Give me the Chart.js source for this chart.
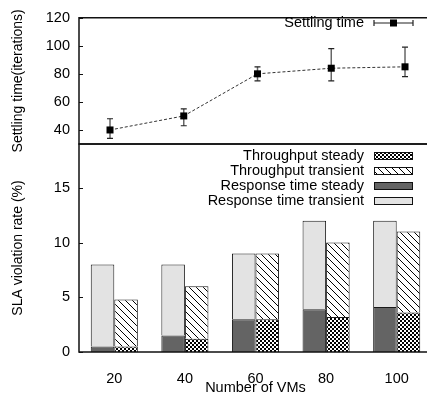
<!DOCTYPE html>
<html>
<head>
<meta charset="utf-8">
<script src="https://cdn.jsdelivr.net/npm/chart.js@4"></script>
<style>
  html, body { margin: 0; padding: 0; background: #fff; overflow: hidden; }
  #wrap { position: relative; width: 432px; height: 394px; }
  #wrap canvas { position: absolute; left: 0; top: 0; }
</style>
</head>
<body>
<div id="wrap">
  <canvas id="barChart" width="432" height="394"></canvas>
  <canvas id="lineChart" width="432" height="165"></canvas>
</div>
<script>
// values
const vmLabels = ["20", "40", "60", "80", "100"];
const vmCounts = [20, 40, 60, 80, 100];

const settlingTime = [40, 50, 80, 84, 85];
const settlingLow = [34, 43, 75, 75, 78];
const settlingHigh = [48, 55, 85, 98, 99];

const respSteady = [0.5, 1.5, 3, 3.9, 4.1];
const respTransient = [7.5, 6.5, 6, 8.1, 7.9];
const tputSteady = [0.5, 1.2, 3, 3.2, 3.6];
const tputTransient = [4.3, 4.8, 6, 6.8, 7.4];

const topTicks = [40, 60, 80, 100, 120];
const bottomTicks = [0, 5, 10, 15];

const FONT = "'Liberation Sans', Arial, sans-serif";
const FS = 14.5;
Chart.defaults.font.family = FONT;
Chart.defaults.font.size = FS;
Chart.defaults.color = "#000";

// fill patterns
function hatchPattern() {
  const c = document.createElement("canvas");
  c.width = 7; c.height = 7;
  const g = c.getContext("2d");
  g.fillStyle = "#fff";
  g.fillRect(0, 0, 7, 7);
  g.strokeStyle = "#000";
  g.lineWidth = 1;
  g.beginPath();
  g.moveTo(-1, -1); g.lineTo(8, 8);
  g.moveTo(-8, -1); g.lineTo(1, 8);
  g.moveTo(6, -1); g.lineTo(15, 8);
  g.stroke();
  return g.createPattern(c, "repeat");
}
function checkerPattern() {
  const c = document.createElement("canvas");
  c.width = 4; c.height = 4;
  const g = c.getContext("2d");
  g.fillStyle = "#fff";
  g.fillRect(0, 0, 4, 4);
  g.fillStyle = "#000";
  g.fillRect(0, 0, 2, 2);
  g.fillRect(2, 2, 2, 2);
  return g.createPattern(c, "repeat");
}
const hatch = hatchPattern();
const checker = checkerPattern();
const DARK = "#646464";
const LIGHT = "#e3e3e3";

// box lines + inward ticks
const framePlugin = {
  id: "frame",
  afterDraw(chart) {
    const { ctx, chartArea: a } = chart;
    const ys = chart.scales.y;
    ctx.save();
    ctx.strokeStyle = "#111";
    ctx.lineWidth = 1.5;
    ctx.beginPath();
    ctx.moveTo(a.right, a.top); ctx.lineTo(a.left, a.top);
    ctx.lineTo(a.left, a.bottom); ctx.lineTo(a.right, a.bottom);
    ctx.stroke();
    ctx.lineWidth = 1;
    ctx.beginPath();
    ys.ticks.forEach(t => {
      const y = Math.round(ys.getPixelForValue(t.value)) + 0.5;
      ctx.moveTo(a.left, y); ctx.lineTo(a.left + 4, y);
    });
    ctx.stroke();
    ctx.restore();
  }
};

const errorBarPlugin = {
  id: "errorBars",
  afterDatasetsDraw(chart) {
    const { ctx } = chart;
    const xs = chart.scales.x, ys = chart.scales.y;
    ctx.save();
    vmCounts.forEach((v, i) => {
      const x = xs.getPixelForValue(v);
      const yl = ys.getPixelForValue(settlingLow[i]);
      const yh = ys.getPixelForValue(settlingHigh[i]);
      ctx.strokeStyle = "#666";
      ctx.lineWidth = 1.5;
      ctx.beginPath(); ctx.moveTo(x, yl); ctx.lineTo(x, yh); ctx.stroke();
      ctx.strokeStyle = "#222";
      ctx.lineWidth = 1.2;
      ctx.beginPath();
      ctx.moveTo(x - 3, yl); ctx.lineTo(x + 3, yl);
      ctx.moveTo(x - 3, yh); ctx.lineTo(x + 3, yh);
      ctx.stroke();
      // marker on top of the bar
      ctx.fillStyle = "#000";
      const y = ys.getPixelForValue(settlingTime[i]);
      ctx.fillRect(x - 3.5, y - 3.5, 7, 7);
    });
    ctx.restore();
  }
};

const lineLegend = {
  id: "lineLegend",
  afterDraw(chart) {
    const { ctx } = chart;
    ctx.save();
    ctx.font = FS + "px " + FONT;
    ctx.fillStyle = "#000";
    ctx.textAlign = "right";
    ctx.textBaseline = "middle";
    ctx.fillText("Settling time", 364, 23);
    ctx.strokeStyle = "#222";
    ctx.lineWidth = 1.2;
    ctx.beginPath();
    ctx.moveTo(374, 23); ctx.lineTo(413, 23);
    ctx.moveTo(374, 20); ctx.lineTo(374, 26);
    ctx.moveTo(413, 20); ctx.lineTo(413, 26);
    ctx.stroke();
    ctx.fillStyle = "#000";
    ctx.fillRect(390, 19.5, 7, 7);
    ctx.restore();
  }
};

const barLegend = {
  id: "barLegend",
  afterDraw(chart) {
    const { ctx } = chart;
    const items = [
      ["Throughput steady", checker],
      ["Throughput transient", hatch],
      ["Response time steady", DARK],
      ["Response time transient", LIGHT]
    ];
    ctx.save();
    ctx.font = FS + "px " + FONT;
    ctx.textAlign = "right";
    ctx.textBaseline = "middle";
    items.forEach((it, i) => {
      const y = 156 + i * 15;
      ctx.fillStyle = "#000";
      ctx.fillText(it[0], 364, y);
      ctx.fillStyle = it[1];
      ctx.fillRect(374, y - 3.5, 39, 7);
      ctx.strokeStyle = "#111";
      ctx.lineWidth = 1;
      ctx.strokeRect(374.5, y - 3.5, 38, 7);
    });
    ctx.restore();
  }
};

new Chart(document.getElementById("lineChart"), {
  type: "line",
  data: {
    datasets: [{
      label: "Settling time",
      data: vmCounts.map((v, i) => ({ x: v, y: settlingTime[i] })),
      borderColor: "#333",
      borderWidth: 1,
      borderDash: [3, 2],
      pointStyle: "rect",
      pointRadius: 0,
      fill: false
    }]
  },
  options: {
    responsive: false,
    animation: false,
    layout: { padding: { top: 11, bottom: 21, left: 0, right: 0 } },
    plugins: { legend: { display: false }, tooltip: { enabled: false } },
    scales: {
      x: { type: "linear", display: false, min: 11.59, max: 107.32 },
      y: {
        min: 30, max: 120,
        afterFit(s) { s.width = 79; },
        afterBuildTicks(s) { s.ticks = topTicks.map(v => ({ value: v })); },
        grid: { display: false, drawTicks: false },
        border: { display: false },
        ticks: { padding: 9 },
        title: {
          display: true,
          text: "Settling time(iterations)",
          font: { size: 14 },
          padding: { top: 10, bottom: 0 }
        }
      }
    }
  },
  plugins: [errorBarPlugin, framePlugin, lineLegend]
});

new Chart(document.getElementById("barChart"), {
  type: "bar",
  data: {
    labels: vmLabels,
    datasets: [
      { label: "Response time steady", data: respSteady, stack: "resp", backgroundColor: DARK },
      { label: "Response time transient", data: respTransient, stack: "resp", backgroundColor: LIGHT },
      { label: "Throughput steady", data: tputSteady, stack: "tput", backgroundColor: checker },
      { label: "Throughput transient", data: tputTransient, stack: "tput", backgroundColor: hatch }
    ].map(d => Object.assign(d, {
      borderColor: "#1a1a1a",
      borderWidth: 1,
      categoryPercentage: 0.667,
      barPercentage: 1
    }))
  },
  options: {
    responsive: false,
    animation: false,
    layout: { padding: { top: 144, bottom: 0, left: 0, right: 0 } },
    plugins: { legend: { display: false }, tooltip: { enabled: false } },
    scales: {
      x: {
        stacked: true,
        afterFit(s) { s.height = 42; },
        grid: { display: false, drawTicks: false },
        border: { display: false },
        ticks: { padding: 18 },
        title: {
          display: true,
          text: "Number of VMs",
          font: { size: FS, lineHeight: 1 },
          padding: { top: 0, bottom: -1 }
        }
      },
      y: {
        stacked: true,
        min: 0, max: 19,
        afterFit(s) { s.width = 79; },
        afterBuildTicks(s) { s.ticks = bottomTicks.map(v => ({ value: v })); },
        grid: { display: false, drawTicks: false },
        border: { display: false },
        ticks: { padding: 9 },
        title: {
          display: true,
          text: "SLA violation rate (%)",
          font: { size: 14 },
          padding: { top: 10, bottom: 0 }
        }
      }
    }
  },
  plugins: [framePlugin, barLegend]
});
</script>
</body>
</html>
